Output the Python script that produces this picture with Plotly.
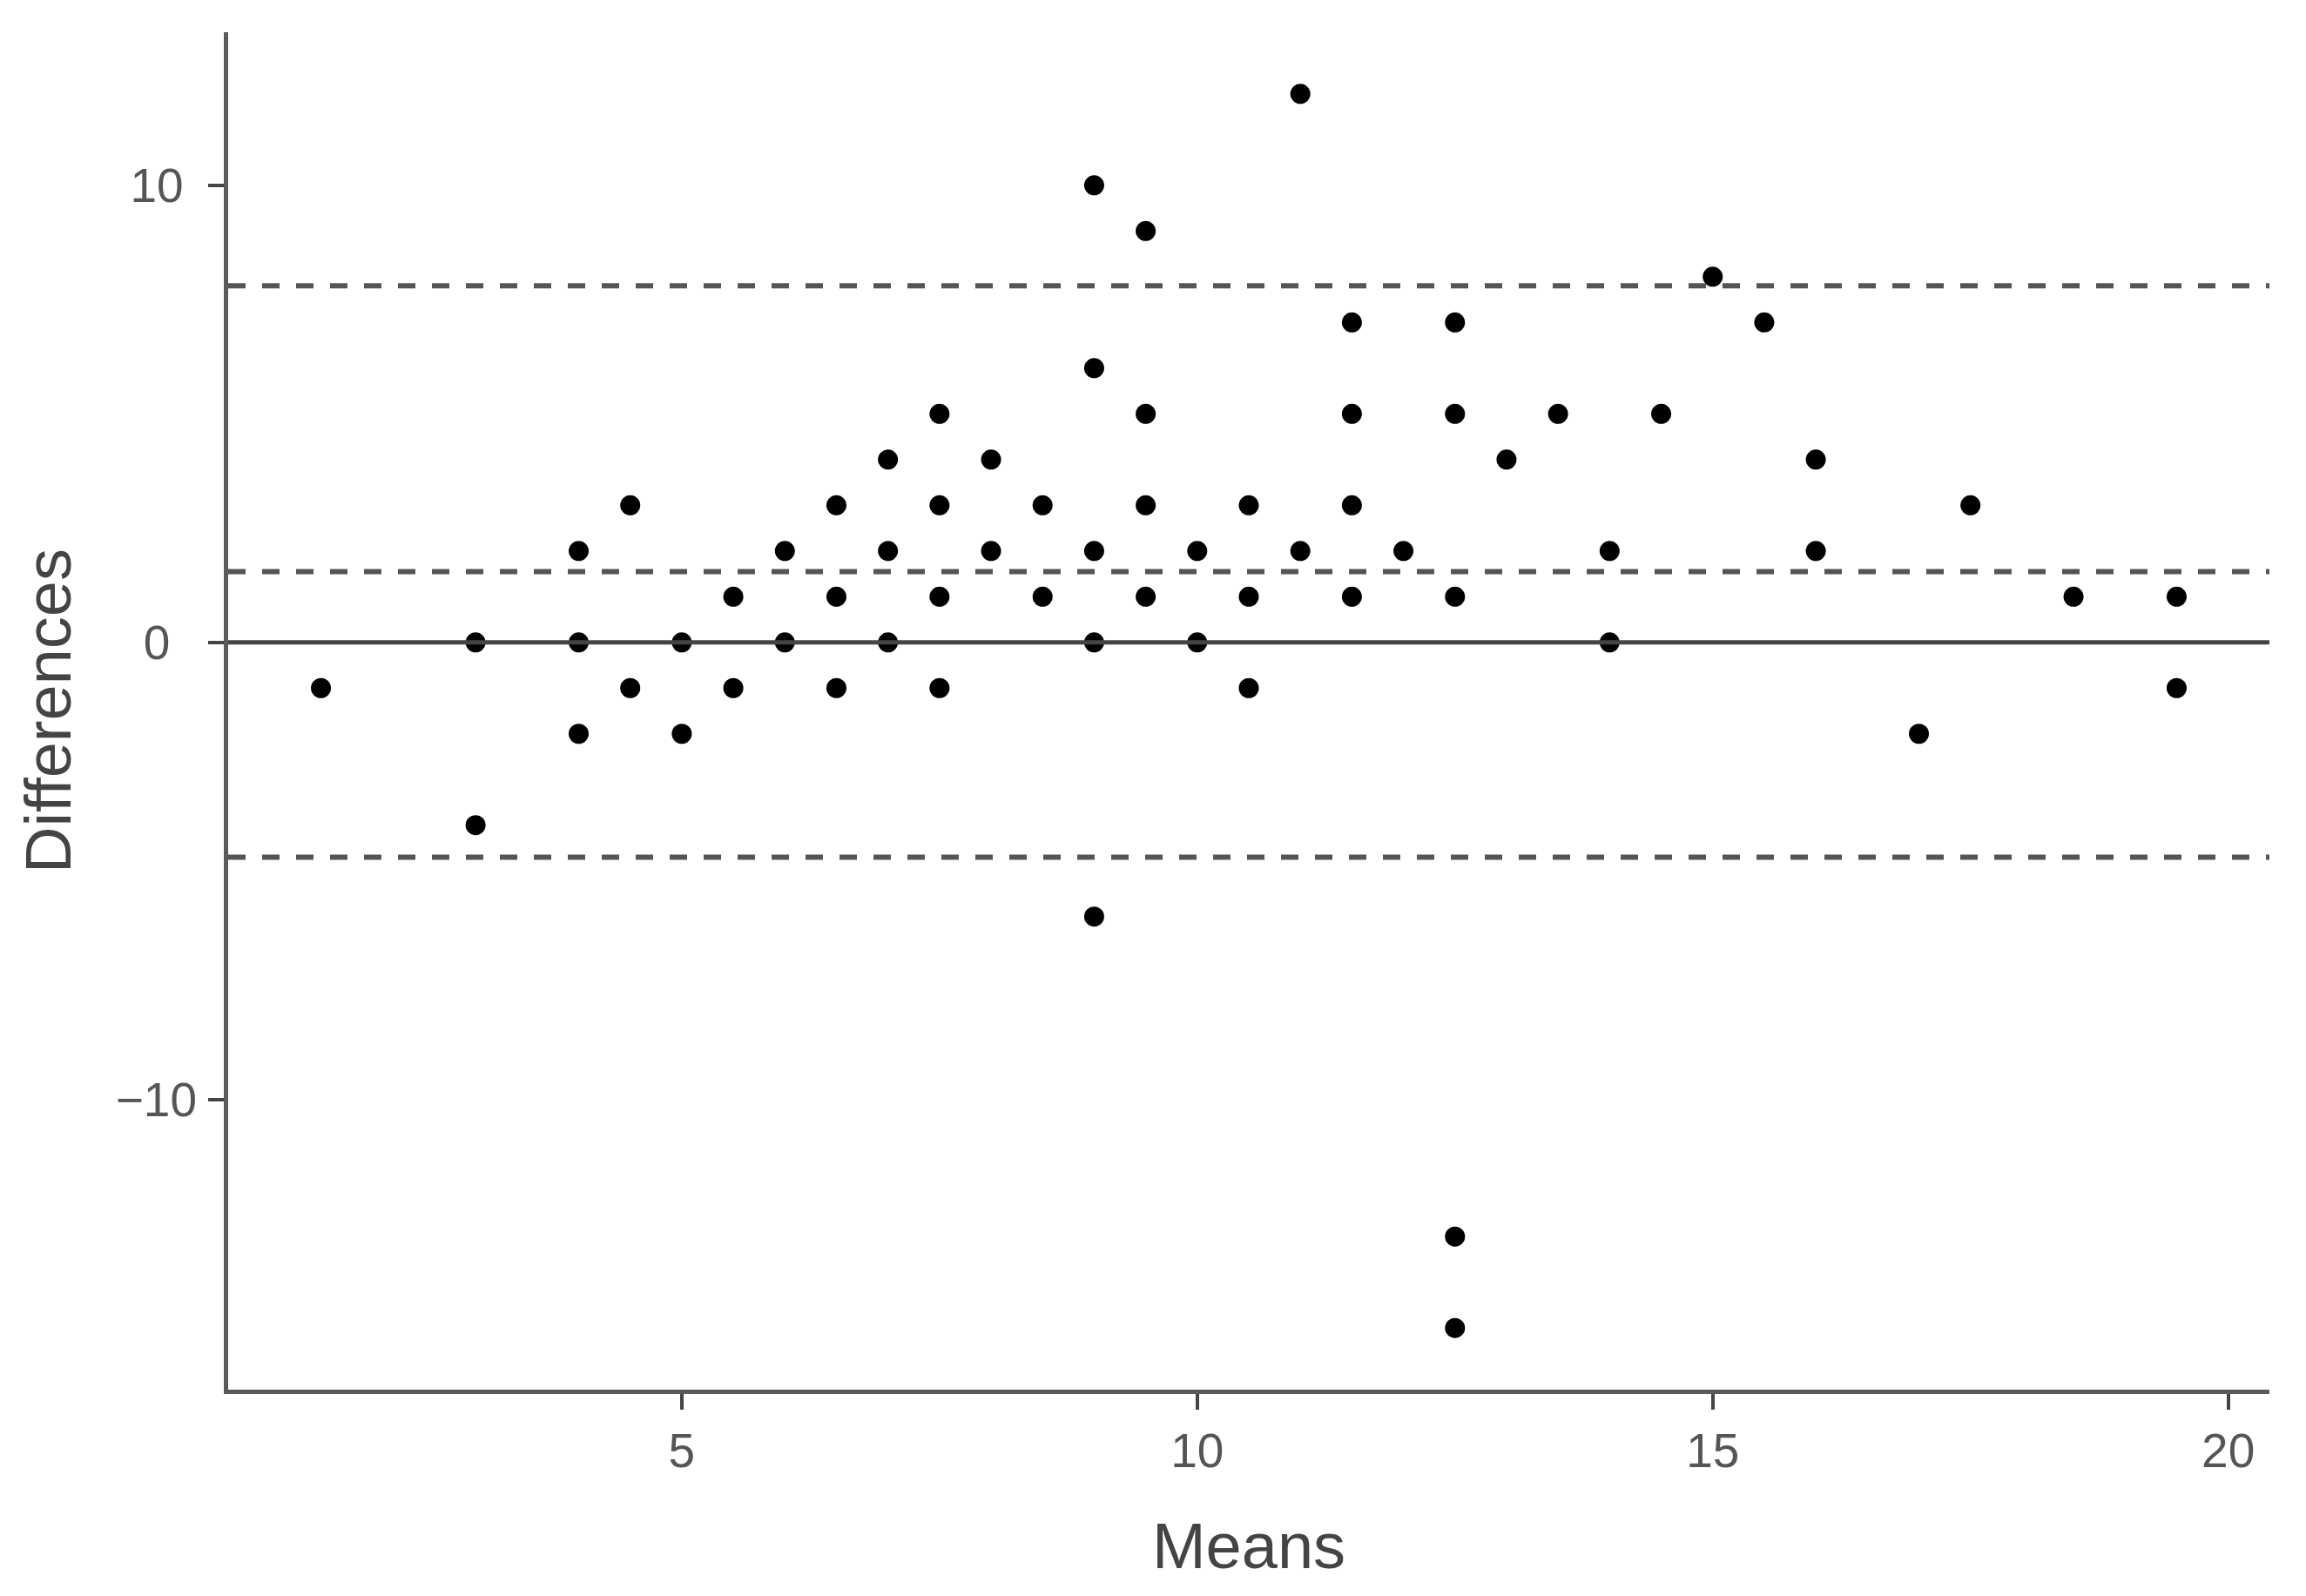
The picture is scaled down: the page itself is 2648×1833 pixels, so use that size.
import plotly.graph_objects as go

# Bland-Altman data
means = [1.5,
         3, 3,
         4, 4, 4,
         4.5, 4.5,
         5, 5,
         5.5, 5.5,
         6, 6,
         6.5, 6.5, 6.5,
         7, 7, 7,
         7.5, 7.5, 7.5, 7.5,
         8, 8,
         8.5, 8.5,
         9, 9, 9, 9, 9,
         9.5, 9.5, 9.5, 9.5,
         10, 10,
         10.5, 10.5, 10.5,
         11, 11,
         11.5, 11.5, 11.5, 11.5,
         12,
         12.5, 12.5, 12.5, 12.5, 12.5,
         13,
         13.5,
         14, 14,
         14.5,
         15,
         15.5,
         16, 16,
         17,
         17.5,
         18.5,
         19.5, 19.5]
differences = [-1,
               0, -4,
               2, 0, -2,
               3, -1,
               0, -2,
               1, -1,
               2, 0,
               3, 1, -1,
               4, 2, 0,
               5, 3, 1, -1,
               4, 2,
               3, 1,
               10, 6, 2, 0, -6,
               9, 5, 3, 1,
               2, 0,
               3, 1, -1,
               12, 2,
               7, 5, 3, 1,
               2,
               7, 5, 1, -13, -15,
               4,
               5,
               2, 0,
               5,
               8,
               7,
               4, 2,
               -2,
               3,
               1,
               1, -1]

# reference lines
zero_line = [0]
bias_and_limits = [7.8, 1.55, -4.7]   # upper LoA, mean bias, lower LoA

x_ticks = [5, 10, 15, 20]
y_ticks = [-10, 0, 10]
# y tick labels are centred in the reference; pad with no-break spaces to mimic it
y_tick_labels = ["\u221210", "0\u00a0\u00a0", "10\u00a0"]

fig = go.Figure()

fig.add_trace(go.Scatter(
    x=means, y=differences, mode="markers",
    marker=dict(color="black", size=23, line=dict(width=0)),
    showlegend=False, hoverinfo="x+y",
))

shapes = []
for v in zero_line:
    shapes.append(dict(type="line", xref="paper", yref="y", x0=0, x1=1, y0=v, y1=v,
                       line=dict(color="#444444", width=5), layer="above"))
for v in bias_and_limits:
    shapes.append(dict(type="line", xref="paper", yref="y", x0=0, x1=1, y0=v, y1=v,
                       line=dict(color="#555555", width=6, dash="20px,19px"), layer="above"))

axis_font = dict(family="Liberation Sans, Arial, sans-serif", size=55, color="#555555")
title_font = dict(family="Liberation Sans, Arial, sans-serif", size=74, color="#444444")

fig.update_layout(
    width=2648, height=1833,
    margin=dict(l=254, r=50, t=29, b=245, autoexpand=False),
    paper_bgcolor="white", plot_bgcolor="white",
    shapes=shapes,
    xaxis=dict(
        range=[0.6, 20.4], tickvals=x_ticks, showgrid=False, zeroline=False,
        showline=True, linecolor="#5a5a5a", linewidth=5,
        ticks="outside", ticklen=18, tickwidth=4, tickcolor="#444444",
        tickfont=axis_font, ticklabelstandoff=0,
        title=dict(text="Means", font=title_font, standoff=55),
    ),
    yaxis=dict(
        range=[-16.35, 13.35], tickvals=y_ticks, ticktext=y_tick_labels,
        showgrid=False, zeroline=False,
        showline=True, linecolor="#5a5a5a", linewidth=5,
        ticks="outside", ticklen=18, tickwidth=4, tickcolor="#444444",
        tickfont=axis_font, ticklabelstandoff=2,
        title=dict(text="Differences", font=title_font, standoff=28),
    ),
)

fig.write_html("out.html")
